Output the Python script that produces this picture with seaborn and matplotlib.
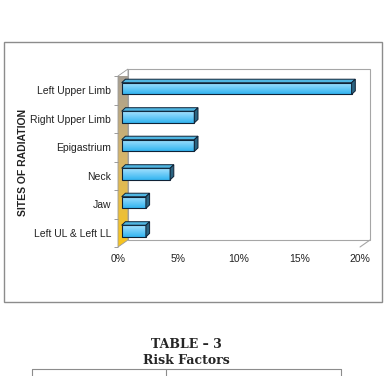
import numpy as np
import pandas as pd
import matplotlib
matplotlib.use("Agg")
import matplotlib.pyplot as plt
import seaborn as sns
from matplotlib.patches import Rectangle, Polygon
from matplotlib.colors import LinearSegmentedColormap

sns.set_style("white")
plt.rcParams['font.family'] = ['Liberation Sans', 'DejaVu Sans']

# data
sites = ['Left Upper Limb', 'Right Upper Limb', 'Epigastrium', 'Neck', 'Jaw', 'Left UL & Left LL']
percent = [19, 6, 6, 4, 2, 2]
xticks = [0, 5, 10, 15, 20]
xticklabels = ['0%', '5%', '10%', '15%', '20%']

df = pd.DataFrame({'site': sites, 'pct': percent})

W, H = 386, 376
fig = plt.figure(figsize=(W / 100, H / 100), dpi=100)

# outer chart frame
fig.patches.append(Rectangle((4 / W, 1 - 302 / H), 378 / W, 260 / H, transform=fig.transFigure,
                             fill=False, edgecolor='#8c8c8c', lw=1.0))

# front plane of the 3d plot
ax = fig.add_axes([118 / W, 1 - 247 / H, 242 / W, 171 / H])
ax.patch.set_alpha(0)
for s in ax.spines.values():
    s.set_visible(False)

# depth of the walls in axes fraction
dxw, dyw = 10 / 242, 7 / 171

# back wall
ax.add_patch(Rectangle((dxw, dyw), 1, 1, transform=ax.transAxes, facecolor='white',
                       edgecolor='#a6a6a6', lw=0.8, clip_on=False, zorder=0))
# floor edge at right
ax.plot([1, 1 + dxw], [0, dyw], transform=ax.transAxes, color='#a6a6a6', lw=0.8, clip_on=False)

# left wall with gray -> yellow gradient
wall = Polygon([(0, 0), (0, 1), (dxw, 1 + dyw), (dxw, dyw)], closed=True, transform=ax.transAxes,
               facecolor='none', edgecolor='#9a9a9a', lw=0.6, clip_on=False, zorder=1)
ax.add_patch(wall)
wall_cmap = LinearSegmentedColormap.from_list('wall', ['#f9c51c', '#d6b56a', '#a39d96'])
grad = np.linspace(0, 1, 256).reshape(-1, 1)
im = ax.imshow(grad, cmap=wall_cmap, aspect='auto', extent=(0, dxw, 0, 1 + dyw), origin='lower',
               transform=ax.transAxes, zorder=0.5)
im.set_clip_path(wall)

# bars
sns.barplot(data=df, x='pct', y='site', orient='h', width=0.41, color='#55c6f5',
            edgecolor='#0f2236', linewidth=0.8, ax=ax, zorder=3)
bars = list(ax.containers[0])

kx = 20 / 242   # data units per pixel
ky = 6 / 171
ddx, ddy = 3.7 * kx, -3.5 * ky
bar_cmap = LinearSegmentedColormap.from_list('bar', ['#a5e2ff', '#33b4f0'])
for p in bars:
    p.set_x(p.get_x() + 3.7 * kx)
    p.set_y(p.get_y() - 1.7 * ky)
    x0, y0 = p.get_x(), p.get_y()
    w, h = p.get_width(), p.get_height()
    p.set_facecolor('none')
    p.set_zorder(3)
    g = ax.imshow(np.linspace(0, 1, 64).reshape(-1, 1), cmap=bar_cmap, aspect='auto',
                  extent=(x0, x0 + w, y0 + h, y0), origin='upper', zorder=2.5)
    g.set_clip_path(p)
    # top face
    ax.add_patch(Polygon([(x0, y0), (x0 + ddx, y0 + ddy), (x0 + w + ddx, y0 + ddy), (x0 + w, y0)],
                         facecolor='#4fb6e2', edgecolor='#0f2236', lw=0.7, zorder=3))
    # side face
    ax.add_patch(Polygon([(x0 + w, y0), (x0 + w + ddx, y0 + ddy), (x0 + w + ddx, y0 + h + ddy), (x0 + w, y0 + h)],
                         facecolor='#2b6481', edgecolor='#0f2236', lw=0.7, zorder=3))

ax.set_xlim(0, 20)
ax.set_ylim(5.5, -0.5)
ax.set_xticks(xticks)
ax.set_xticklabels(xticklabels, fontsize=7.5, color='#222222')
ax.set_yticks(range(len(sites)))
ax.set_yticklabels(sites, fontsize=7.5, color='#222222')
ax.set_yticks(np.arange(-0.5, len(sites), 1), minor=True)
ax.tick_params(axis='x', length=0, pad=5)
ax.tick_params(axis='y', which='major', length=0, pad=5)
ax.tick_params(axis='y', which='minor', length=3, color='#8c8c8c', width=0.6, left=True)
ax.set_xlabel('')
ax.set_ylabel('')

fig.text(23 / W, 1 - 162 / H, 'SITES OF RADIATION', rotation=90, ha='center', va='center',
         fontsize=7.5, fontweight='bold', color='#222222')

# caption below the chart
fig.text(186 / W, 1 - 345 / H, 'TABLE \u2013 3', ha='center', va='center', fontsize=9,
         fontweight='bold', family=['DejaVu Serif'])
fig.text(186 / W, 1 - 360 / H, 'Risk Factors', ha='center', va='center', fontsize=9,
         fontweight='bold', family=['DejaVu Serif'])

# top edge of the next table
ty = 1 - 368.5 / H
fig.lines.append(plt.Line2D([32 / W, 341 / W], [ty, ty], transform=fig.transFigure, color='#8c8c8c', lw=0.8))
for xx in [32, 166, 341]:
    fig.lines.append(plt.Line2D([xx / W, xx / W], [ty, 0], transform=fig.transFigure, color='#8c8c8c', lw=0.8))

fig.savefig('out.png', dpi=100)
